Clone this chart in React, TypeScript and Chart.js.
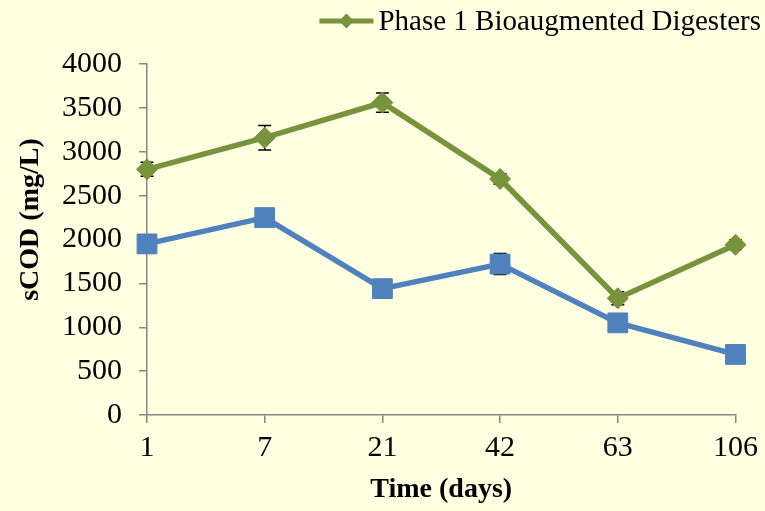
import { useEffect, useRef } from "react";
import { Chart, registerables } from "chart.js";

Chart.register(...registerables);

// Sampling days (category axis)
const days = ["1", "7", "21", "42", "63", "106"];

// Soluble COD, mg/L
const bioaugmented = [2800, 3160, 3560, 2690, 1330, 1940];
const bioaugmentedErr = [80, 140, 110, 60, 75, 55];
const control = [1950, 2250, 1440, 1720, 1050, 690];
const controlErr = [50, 60, 60, 120, 50, 40];

const bioLabel = "Phase 1 Bioaugmented Digesters";
const controlLabel = "Phase 1 Control Digesters";
const yTitle = "sCOD (mg/L)";
const xTitle = "Time (days)";

const FONT = "'Liberation Serif', 'Times New Roman', Times, serif";
const GREEN = "#77933C";
const BLUE = "#4F81BD";
const AXIS = "#868686";
const BG = "#FFFFE1";

const backdrop = {
  id: "backdrop",
  beforeDraw(chart: any) {
    const { ctx, width, height } = chart;
    ctx.save();
    ctx.fillStyle = BG;
    ctx.fillRect(0, 0, width, height);
    ctx.restore();
  },
};

// Vertical error bars with caps, drawn beneath the lines and markers
const errorBars = {
  id: "errorBars",
  beforeDatasetsDraw(chart: any, _args: any, opts: any) {
    const { ctx } = chart;
    const y = chart.scales.y;
    const all: number[][] = opts.errors || [];
    ctx.save();
    ctx.strokeStyle = "#000000";
    ctx.lineWidth = 1.5;
    chart.data.datasets.forEach((ds: any, di: number) => {
      const errs = all[di];
      if (!errs) return;
      const meta = chart.getDatasetMeta(di);
      meta.data.forEach((pt: any, i: number) => {
        const v = ds.data[i];
        const e = errs[i];
        const top = y.getPixelForValue(v + e);
        const bot = y.getPixelForValue(v - e);
        const cap = 6.5;
        ctx.beginPath();
        ctx.moveTo(pt.x, top);
        ctx.lineTo(pt.x, bot);
        ctx.moveTo(pt.x - cap, top);
        ctx.lineTo(pt.x + cap, top);
        ctx.moveTo(pt.x - cap, bot);
        ctx.lineTo(pt.x + cap, bot);
        ctx.stroke();
      });
    });
    ctx.restore();
  },
};

// Legend entry for the bioaugmented series, plus the rotated y-axis title
const annotations = {
  id: "annotations",
  afterDraw(chart: any) {
    const { ctx, chartArea } = chart;
    ctx.save();

    ctx.font = `29px ${FONT}`;
    ctx.textBaseline = "middle";
    ctx.textAlign = "left";
    const tw = ctx.measureText(bioLabel).width;
    const textX = chart.width - 4 - tw;
    const ly = 21;
    const lineStart = textX - 59;
    const lineEnd = textX - 5;
    ctx.strokeStyle = GREEN;
    ctx.lineWidth = 5;
    ctx.beginPath();
    ctx.moveTo(lineStart, ly);
    ctx.lineTo(lineEnd, ly);
    ctx.stroke();
    const cx = (lineStart + lineEnd) / 2;
    const r = 7.5;
    ctx.fillStyle = GREEN;
    ctx.beginPath();
    ctx.moveTo(cx - r, ly);
    ctx.lineTo(cx, ly - r);
    ctx.lineTo(cx + r, ly);
    ctx.lineTo(cx, ly + r);
    ctx.closePath();
    ctx.fill();
    ctx.fillStyle = "#000000";
    ctx.fillText(bioLabel, textX, ly + 1);

    ctx.translate(31, (chartArea.top + chartArea.bottom) / 2 - 20);
    ctx.rotate(-Math.PI / 2);
    ctx.font = `bold 28px ${FONT}`;
    ctx.textAlign = "center";
    ctx.fillText(yTitle, 0, 0);
    ctx.restore();
  },
};

export default function App() {
  const ref = useRef<HTMLCanvasElement | null>(null);

  useEffect(() => {
    if (!ref.current) return;
    const chart = new Chart(ref.current, {
      type: "line",
      data: {
        labels: days,
        datasets: [
          {
            label: bioLabel,
            data: bioaugmented,
            borderColor: GREEN,
            backgroundColor: GREEN,
            borderWidth: 5.5,
            pointStyle: "rectRot",
            pointRadius: 10.5,
            pointBorderWidth: 1,
            pointBorderColor: GREEN,
            pointBackgroundColor: GREEN,
            tension: 0,
            fill: false,
          },
          {
            label: controlLabel,
            data: control,
            borderColor: BLUE,
            backgroundColor: BLUE,
            borderWidth: 5.5,
            pointStyle: "rect",
            pointRadius: 14,
            pointBorderWidth: 1,
            pointBorderColor: BLUE,
            pointBackgroundColor: BLUE,
            tension: 0,
            fill: false,
          },
        ],
      },
      options: {
        responsive: false,
        animation: false,
        events: [],
        layout: { padding: { top: 64, right: 27, bottom: 0, left: 0 } },
        plugins: {
          legend: { display: false },
          tooltip: { enabled: false },
          errorBars: { errors: [bioaugmentedErr, controlErr] },
        } as any,
        scales: {
          x: {
            type: "category",
            offset: false,
            grid: {
              drawOnChartArea: false,
              drawTicks: true,
              tickLength: 8,
              color: AXIS,
              lineWidth: 1.5,
            },
            border: { color: AXIS, width: 1.5 },
            ticks: {
              color: "#000000",
              font: { family: FONT, size: 30 },
              padding: 7,
              maxRotation: 0,
              autoSkip: false,
            },
            title: {
              display: true,
              text: xTitle,
              color: "#000000",
              font: { family: FONT, size: 28, weight: "bold" },
              padding: { top: 0, bottom: 4 },
            },
            afterFit(scale: any) {
              scale.height = 96;
            },
          },
          y: {
            min: 0,
            max: 4000,
            ticks: {
              stepSize: 500,
              color: "#000000",
              font: { family: FONT, size: 30 },
              padding: 17,
              callback: (v: any) => String(v),
            },
            grid: {
              drawOnChartArea: false,
              drawTicks: true,
              tickLength: 8,
              color: AXIS,
              lineWidth: 1.5,
            },
            border: { color: AXIS, width: 1.5 },
            afterFit(scale: any) {
              scale.width = 147;
            },
          },
        },
      },
      plugins: [backdrop, errorBars, annotations],
    });
    return () => chart.destroy();
  }, []);

  return (
    <div style={{ position: "fixed", left: 0, top: 0, width: 765, height: 511, background: BG }}>
      <canvas ref={ref} width={765} height={511} style={{ display: "block" }} />
    </div>
  );
}
